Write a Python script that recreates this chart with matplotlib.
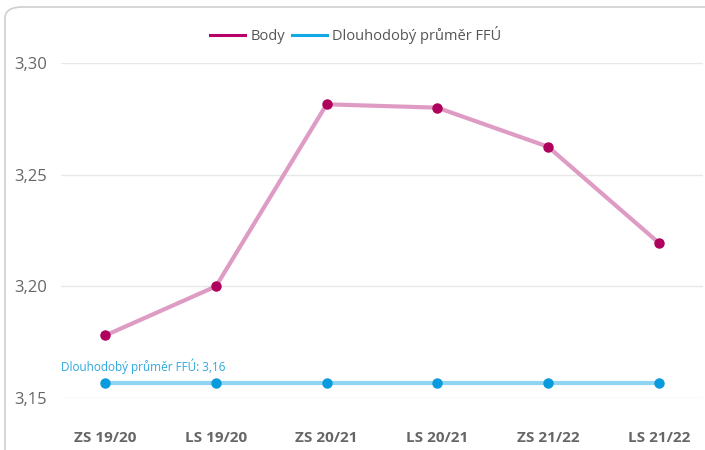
import matplotlib
matplotlib.use("Agg")
import matplotlib.pyplot as plt
from matplotlib.patches import FancyBboxPatch

categories = ["ZS 19/20", "LS 19/20", "ZS 20/21", "LS 20/21", "ZS 21/22", "LS 21/22"]
body = [3.178, 3.200, 3.2815, 3.280, 3.2625, 3.2195]
long_avg = [3.1565, 3.1565, 3.1565, 3.1565, 3.1565, 3.1565]
y_ticks = [3.15, 3.20, 3.25, 3.30]
y_tick_labels = ["3,15", "3,20", "3,25", "3,30"]
avg_label = "Dlouhodobý průměr FFÚ: 3,16"
legend_labels = ["Body", "Dlouhodobý průměr FFÚ"]

plt.rcParams['font.family'] = ['Open Sans', 'DejaVu Sans']

fig = plt.figure(figsize=(7.05, 4.5), dpi=100)
fig.patch.set_facecolor("white")

# card border
card = FancyBboxPatch((5 / 705, -0.1), 1.2, (450 - 7) / 450 + 0.1,
                      boxstyle="round,pad=0,rounding_size=0.025",
                      transform=fig.transFigure, facecolor="none",
                      edgecolor="#CFCFCF", linewidth=1.2, zorder=0)
fig.patches.append(card)

ax = fig.add_axes([61 / 705, 52 / 450, 642 / 705, 335 / 450])
ax.set_facecolor("none")
x = list(range(len(categories)))

ax.plot(x, long_avg, color="#8FD4F2", linewidth=3, zorder=3, solid_capstyle="butt")
ax.plot(x, long_avg, linestyle="none", marker="o", markersize=6.5,
        color="#0A9BDD", zorder=4)
ax.plot(x, body, color="#DE9CC5", linewidth=3, zorder=3)
ax.plot(x, body, linestyle="none", marker="o", markersize=6.5,
        color="#AE005C", zorder=4)

ax.set_xlim(-0.4, 5.4)
ax.set_ylim(3.15, 3.30)
ax.set_yticks(y_ticks)
ax.set_yticklabels(y_tick_labels, fontsize=12, color="#666666")
ax.set_xticks(x)
ax.set_xticklabels(categories, fontsize=11, fontweight="bold", color="#666666")
ax.tick_params(axis="both", length=0)
ax.tick_params(axis="y", pad=10)
ax.tick_params(axis="x", pad=24)
ax.grid(axis="y", color="#E8E8E8", linewidth=1)
ax.set_axisbelow(True)
for s in ax.spines.values():
    s.set_visible(False)

ax.annotate(avg_label, xy=(-0.4, long_avg[0]), xytext=(0, 7),
            textcoords="offset points", fontsize=8.5, color="#2EA8DF",
            ha="left", va="bottom")

# legend
h1, = ax.plot([], [], color="#B8006A", linewidth=2.2)
h2, = ax.plot([], [], color="#12A8E6", linewidth=2.2)
fig.legend([h1, h2], legend_labels, loc="center", bbox_to_anchor=(0.505, (450 - 35) / 450),
           ncol=2, frameon=False, fontsize=10.5, labelcolor="#555555",
           handlelength=2.4, handletextpad=0.35, columnspacing=0.5)

fig.savefig("out.png", dpi=100, facecolor="white")
